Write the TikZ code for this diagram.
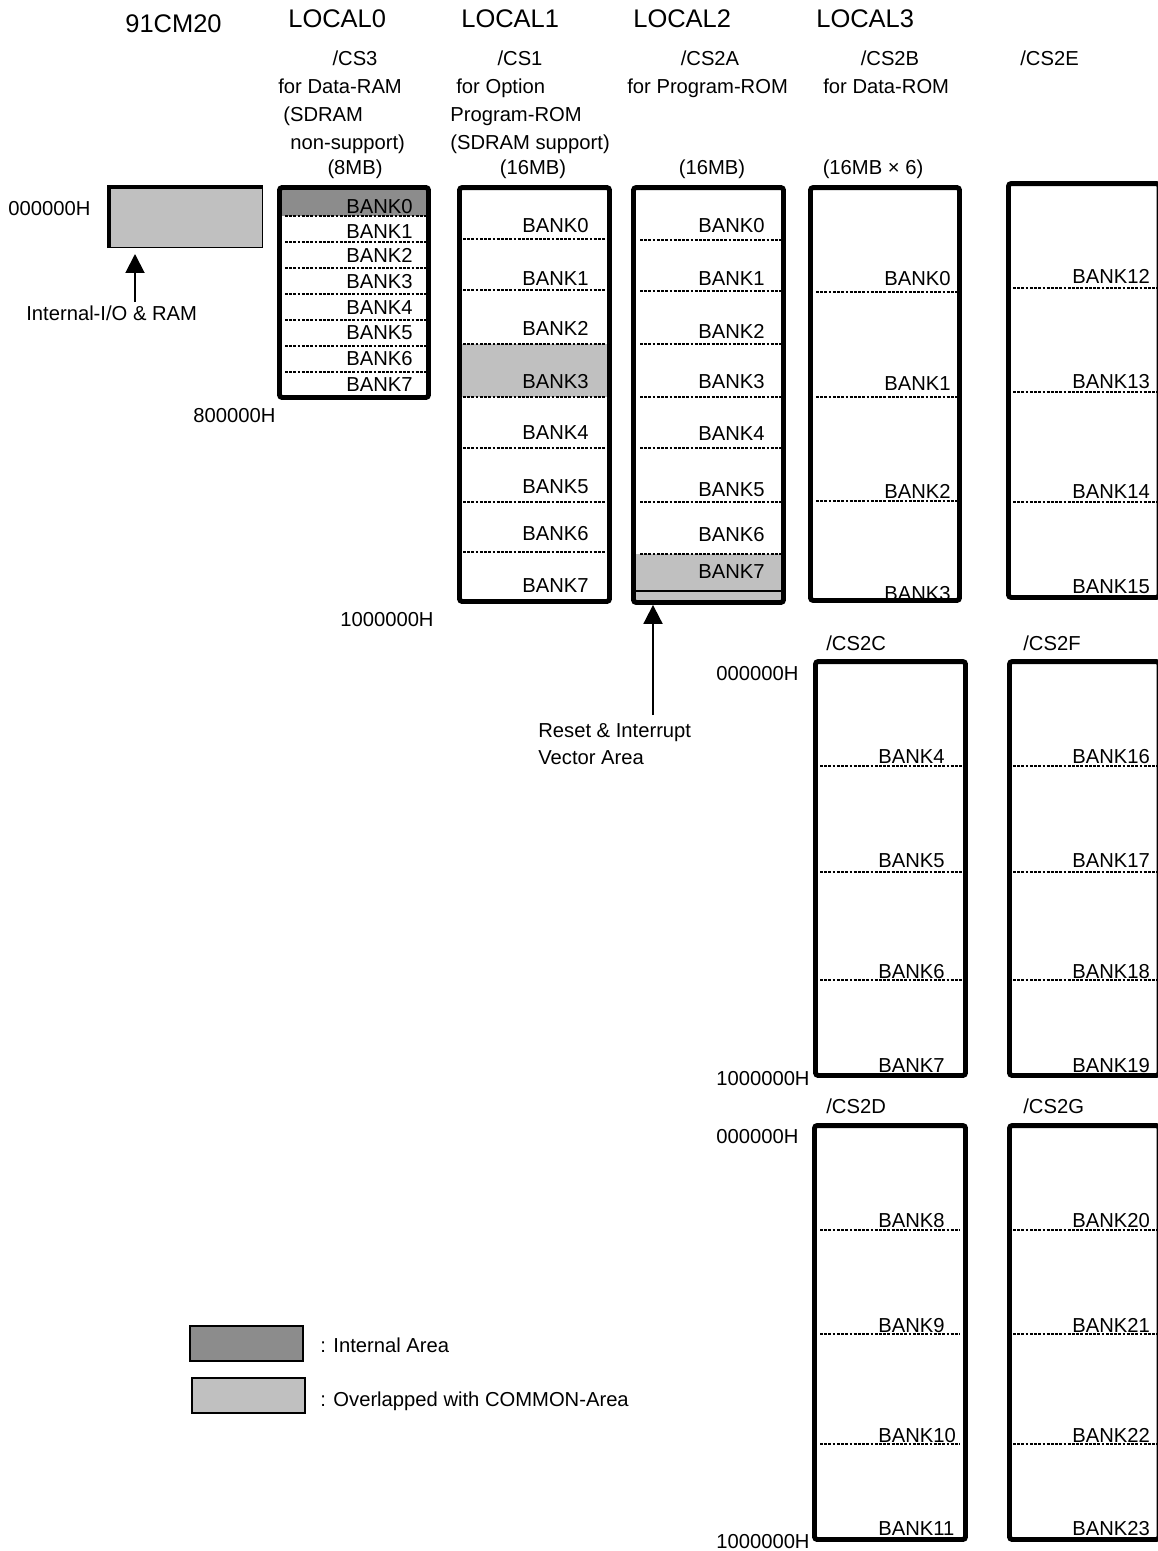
\documentclass[tikz,border=0pt]{standalone}
\usepackage{fontspec}
\setmainfont{Liberation Sans}
\usepackage{xcolor}
\definecolor{InternalGray}{HTML}{8C8C8C}
\definecolor{CommonGray}{HTML}{C0C0C0}
\usepackage{tikz}
\usetikzlibrary{arrows.meta}
\newcommand{\bodyfont}{\fontsize{11.5}{15.5}\selectfont}
\tikzset{
  memblk/.style={
    draw,
    line width=2.8pt,
    rounded corners=1.5pt,
    inner sep=0pt
  },
  banklbl/.style={
    anchor=base west,
    inner sep=0pt,
    font=\bodyfont
  },
  bankline/.style={
    line width=0.9pt,
    dash pattern=on 1.6pt off 0.8pt
  },
  hdrlbl/.style={
    anchor=base west,
    inner sep=0pt,
    font=\fontsize{14.5}{16}\selectfont
  },
  txtlbl/.style={
    anchor=base west,
    inner sep=0pt,
    font=\bodyfont
  },
  ctrlbl/.style={
    anchor=base,
    inner sep=0pt,
    font=\bodyfont
  },
  keybox/.style={
    draw,
    line width=0.8pt,
    minimum width=2.26cm,
    minimum height=0.7cm,
    inner sep=0pt
  },
  ptr/.style={
    -{Triangle[length=3.8mm,width=3.8mm]},
    line width=1.1pt
  }
}

\begin{document}
\begin{tikzpicture}[x=0.02cm,y=-0.02cm]
  \useasboundingbox (0,0) rectangle (1158,1551);
  \clip (0,0) rectangle (1158,1551);
  % headings
  \node[hdrlbl] (chip) at (125,33) {91CM20};
  \node[hdrlbl] (loc0) at (288,28) {LOCAL0};
  \node[hdrlbl] (loc1) at (461,28) {LOCAL1};
  \node[hdrlbl] (loc2) at (633,28) {LOCAL2};
  \node[hdrlbl] (loc3) at (816,28) {LOCAL3};
  \node[ctrlbl] (cs3a) at (355,66) {/CS3};
  \node[txtlbl] (cs3b) at (278,94) {for Data-RAM};
  \node[txtlbl] (cs3c) at (283,122) {(SDRAM};
  \node[txtlbl] (cs3d) at (290,150) {non-support)};
  \node[ctrlbl] (cs3e) at (355,175) {(8MB)};
  \node[ctrlbl] (cs1a) at (520,66) {/CS1};
  \node[txtlbl] (cs1b) at (456,94) {for Option};
  \node[txtlbl] (cs1c) at (450,122) {Program-ROM};
  \node[txtlbl] (cs1d) at (450,150) {(SDRAM support)};
  \node[ctrlbl] (cs1e) at (533,175) {(16MB)};
  \node[ctrlbl] (csaa) at (710,66) {/CS2A};
  \node[txtlbl] (csab) at (627,94) {for Program-ROM};
  \node[ctrlbl] (csae) at (712,175) {(16MB)};
  \node[ctrlbl] (csba) at (890,66) {/CS2B};
  \node[txtlbl] (csbb) at (823,94) {for Data-ROM};
  \node[ctrlbl] (csbe) at (873,175) {(16MB × 6)};
  \node[txtlbl] (csea) at (1020,66) {/CS2E};
  \node[txtlbl] (csca) at (826,650) {/CS2C};
  \node[txtlbl] (csfa) at (1023,650) {/CS2F};
  \node[txtlbl] (csda) at (826,1113) {/CS2D};
  \node[txtlbl] (csga) at (1023,1113) {/CS2G};
  % addresses
  \node[txtlbl] (adr0) at (8,215) {000000H};
  \node[txtlbl] (adr1) at (193,422) {800000H};
  \node[txtlbl] (adr2) at (340,626) {1000000H};
  \node[txtlbl] (adr3) at (716,680) {000000H};
  \node[txtlbl] (adr4) at (716,1085) {1000000H};
  \node[txtlbl] (adr5) at (716,1143) {000000H};
  \node[txtlbl] (adr6) at (716,1548) {1000000H};
  % shaded areas
  \fill[InternalGray] (282,190) rectangle (426,216);
  \fill[CommonGray] (462,344) rectangle (607,397);
  \fill[CommonGray] (636,554) rectangle (781,600);
  \draw[line width=0.8pt] (636,591) -- (781,591);
  % bank borders
  \foreach \yl in {216,242,268,294,320,346,372}{\draw[bankline] (285,\yl) -- (427,\yl);}
  \foreach \yl in {239,290,344,397,448,502,552}{\draw[bankline] (463,\yl) -- (605,\yl);}
  \foreach \yl in {240,291,344,397,448,502,554}{\draw[bankline] (640,\yl) -- (781,\yl);}
  \foreach \yl in {292,397,501}{\draw[bankline] (816,\yl) -- (958,\yl);}
  \foreach \yl in {288,392,502}{\draw[bankline] (1013,\yl) -- (1158,\yl);}
  \foreach \yl in {766,872,980}{\draw[bankline] (820,\yl) -- (962,\yl); \draw[bankline] (1013,\yl) -- (1158,\yl);}
  \foreach \yl in {1230,1334,1444}{\draw[bankline] (820,\yl) -- (960,\yl); \draw[bankline] (1013,\yl) -- (1158,\yl);}
  % bank names
  \foreach \n/\yb in {0/214,1/238,2/262,3/288,4/314,5/339,6/365,7/391}{\node[banklbl] (bk0\n) at (346,\yb) {BANK\n};}
  \foreach \n/\yb in {0/233,1/285,2/335,3/388,4/439,5/493,6/540,7/592}{\node[banklbl] (bk1\n) at (522,\yb) {BANK\n};}
  \foreach \n/\yb in {0/233,1/285,2/338,3/388,4/440,5/496,6/541,7/578}{\node[banklbl] (bk2\n) at (698,\yb) {BANK\n};}
  \foreach \n/\yb in {0/285,1/390,2/498,3/600}{\node[banklbl] (bk3\n) at (884,\yb) {BANK\n};}
  \foreach \n/\yb in {12/283,13/388,14/498,15/593}{\node[banklbl] (bk3\n) at (1072,\yb) {BANK\n};}
  \foreach \n/\yb in {4/763,5/867,6/978,7/1072}{\node[banklbl] (bk3\n) at (878,\yb) {BANK\n};}
  \foreach \n/\yb in {16/763,17/867,18/978,19/1072}{\node[banklbl] (bk3\n) at (1072,\yb) {BANK\n};}
  \foreach \n/\yb in {8/1227,9/1332,10/1442,11/1535}{\node[banklbl] (bk3\n) at (878,\yb) {BANK\n};}
  \foreach \n/\yb in {20/1227,21/1332,22/1442,23/1535}{\node[banklbl] (bk3\n) at (1072,\yb) {BANK\n};}
  % memory blocks
  \node[draw, line width=0.6pt, fill=CommonGray, inner sep=0pt, minimum width=3.06cm, minimum height=1.2cm] (io) at (186,217.5) {};
  \draw[line width=2pt] (io.south west) -- (io.north west) -- (io.north east);
  \node[memblk, minimum width=2.98cm, minimum height=4.2cm] (cs3) at (354,292.5) {};
  \node[memblk, minimum width=3.0cm, minimum height=8.28cm] (cs1) at (534.5,394.5) {};
  \node[memblk, minimum width=3.0cm, minimum height=8.3cm] (cs2a) at (708.5,395) {};
  \node[memblk, minimum width=2.98cm, minimum height=8.26cm] (cs2b) at (885,394) {};
  \node[memblk, minimum width=3.01cm, minimum height=8.28cm] (cs2e) at (1083.75,390.5) {};
  \node[memblk, minimum width=3.0cm, minimum height=8.28cm] (cs2c) at (890.5,868.5) {};
  \node[memblk, minimum width=2.99cm, minimum height=8.28cm] (cs2f) at (1084.25,868.5) {};
  \node[memblk, minimum width=3.02cm, minimum height=8.28cm] (cs2d) at (890,1332.5) {};
  \node[memblk, minimum width=2.99cm, minimum height=8.28cm] (cs2g) at (1084.25,1332.5) {};
  % pointers
  \node[txtlbl] (iolbl) at (26,320) {Internal-I/O \& RAM};
  \coordinate (iofoot) at (135,302);
  \draw[ptr, shorten >=3.4pt] (iofoot) -- (iofoot |- io.south);
  \node[anchor=north west, inner sep=0pt, align=left, font=\bodyfont] (rstlbl) at (538,723) {Reset \& Interrupt\\Vector Area};
  \coordinate (rstfoot) at (653,715);
  \draw[ptr] (rstfoot) -- (rstfoot |- cs2a.south);
  % legend
  \node[keybox, fill=InternalGray] (keyint) at (246.5,1343.5) {};
  \node[txtlbl] (keyinttxt) at (320,1352) {: Internal Area};
  \node[keybox, fill=CommonGray] (keycom) at (248.5,1395.5) {};
  \node[txtlbl] (keycomtxt) at (320,1406) {: Overlapped with COMMON-Area};
\end{tikzpicture}
\end{document}
